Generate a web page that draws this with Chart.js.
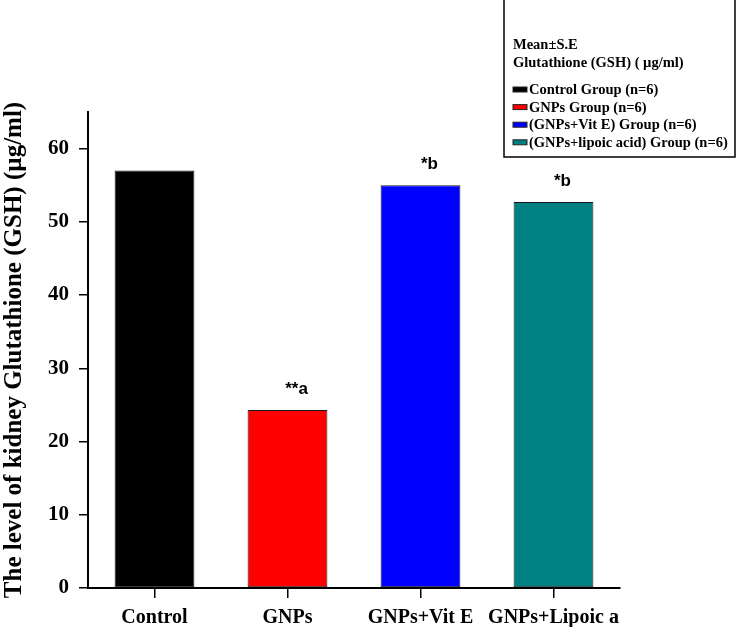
<!DOCTYPE html>
<html>
<head>
<meta charset="utf-8">
<script src="https://cdn.jsdelivr.net/npm/chart.js@4.4.0/dist/chart.umd.min.js"></script>
<style>
html, body { margin: 0; padding: 0; background: #fff; }
#wrap { width: 736px; height: 627px; }
</style>
</head>
<body>
<div id="wrap"><canvas id="gshChart" width="736" height="627"></canvas></div>
<script>
// data
const groups = ['Control', 'GNPs', 'GNPs+Vit E', 'GNPs+Lipoic a'];
const gshMeans = [57.0, 24.3, 55.0, 52.7];
const signifLabels = ['', '**a', '*b', '*b'];
const yTicks = [0, 10, 20, 30, 40, 50, 60];
const legendTitle = ['Mean±S.E', 'Glutathione (GSH) ( µg/ml)'];
const legendLabels = ['Control Group (n=6)', 'GNPs Group (n=6)', '(GNPs+Vit E) Group (n=6)', '(GNPs+lipoic acid) Group (n=6)'];
const barColors = ['#000000', '#ff0000', '#0000ff', '#008080'];

const serif = "'Liberation Serif', 'Times New Roman', serif";
const sans = "'Liberation Sans', Arial, sans-serif";

// Draw the significance letters above the bars
const signifPlugin = {
    id: 'signif',
    afterDatasetsDraw(chart) {
        const ctx = chart.ctx;
        const meta = chart.getDatasetMeta(0);
        ctx.save();
        ctx.font = 'bold 17px ' + sans;
        ctx.fillStyle = '#000';
        ctx.textAlign = 'center';
        ctx.textBaseline = 'alphabetic';
        meta.data.forEach((bar, i) => {
            if (!signifLabels[i]) return;
            ctx.fillText(signifLabels[i], bar.x + 9, bar.y - 16);
        });
        ctx.restore();
    }
};

// Boxed legend in the top right corner
const boxLegendPlugin = {
    id: 'boxLegend',
    afterDraw(chart) {
        const ctx = chart.ctx;
        ctx.save();
        ctx.strokeStyle = '#000';
        ctx.lineWidth = 1.5;
        ctx.strokeRect(504, -1, 231, 158);

        ctx.fillStyle = '#000';
        ctx.textAlign = 'left';
        ctx.textBaseline = 'alphabetic';
        ctx.font = 'bold 14.5px ' + serif;
        ctx.fillText(legendTitle[0], 513, 49);
        ctx.fillText(legendTitle[1], 513, 67);

        legendLabels.forEach((label, i) => {
            const base = 94 + i * 17.6;
            ctx.fillStyle = barColors[i];
            ctx.fillRect(513, base - 7, 14, 5);
            ctx.strokeStyle = '#222';
            ctx.lineWidth = 1;
            ctx.strokeRect(513, base - 7, 14, 5);
            ctx.fillStyle = '#000';
            ctx.fillText(label, 529, base);
        });
        ctx.restore();
    }
};

const ctx = document.getElementById('gshChart').getContext('2d');
new Chart(ctx, {
    type: 'bar',
    data: {
        labels: groups,
        datasets: [{
            label: 'Glutathione (GSH)',
            data: gshMeans,
            backgroundColor: barColors,
            borderColor: '#1a1a1a',
            borderWidth: 1,
            borderSkipped: false,
            barPercentage: 0.6,
            categoryPercentage: 1
        }]
    },
    options: {
        responsive: false,
        animation: false,
        layout: {
            padding: { left: 0, top: 112, right: 116, bottom: 0 }
        },
        plugins: {
            legend: { display: false },
            tooltip: { enabled: false }
        },
        scales: {
            x: {
                afterFit: s => { s.height = 39; },
                grid: {
                    drawOnChartArea: false,
                    offset: false,
                    tickLength: 10,
                    color: '#000',
                    lineWidth: 1.5
                },
                border: { color: '#000', width: 2 },
                ticks: {
                    color: '#000',
                    padding: 8,
                    autoSkip: false,
                    maxRotation: 0,
                    minRotation: 0,
                    font: { family: serif, size: 20, weight: 'bold' }
                }
            },
            y: {
                min: 0,
                max: 65,
                afterFit: s => { s.width = 88; },
                afterBuildTicks: s => { s.ticks = yTicks.map(v => ({ value: v })); },
                grid: {
                    drawOnChartArea: false,
                    tickLength: 9,
                    color: '#000',
                    lineWidth: 1.5
                },
                border: { color: '#000', width: 2 },
                ticks: {
                    color: '#000',
                    padding: 10,
                    font: { family: serif, size: 21, weight: 'bold' }
                },
                title: {
                    display: true,
                    text: 'The level of kidney Glutathione (GSH) (µg/ml)',
                    color: '#000',
                    padding: { top: 0, bottom: 0 },
                    font: { family: serif, size: 25, weight: 'bold' }
                }
            }
        }
    },
    plugins: [signifPlugin, boxLegendPlugin]
});
</script>
</body>
</html>
